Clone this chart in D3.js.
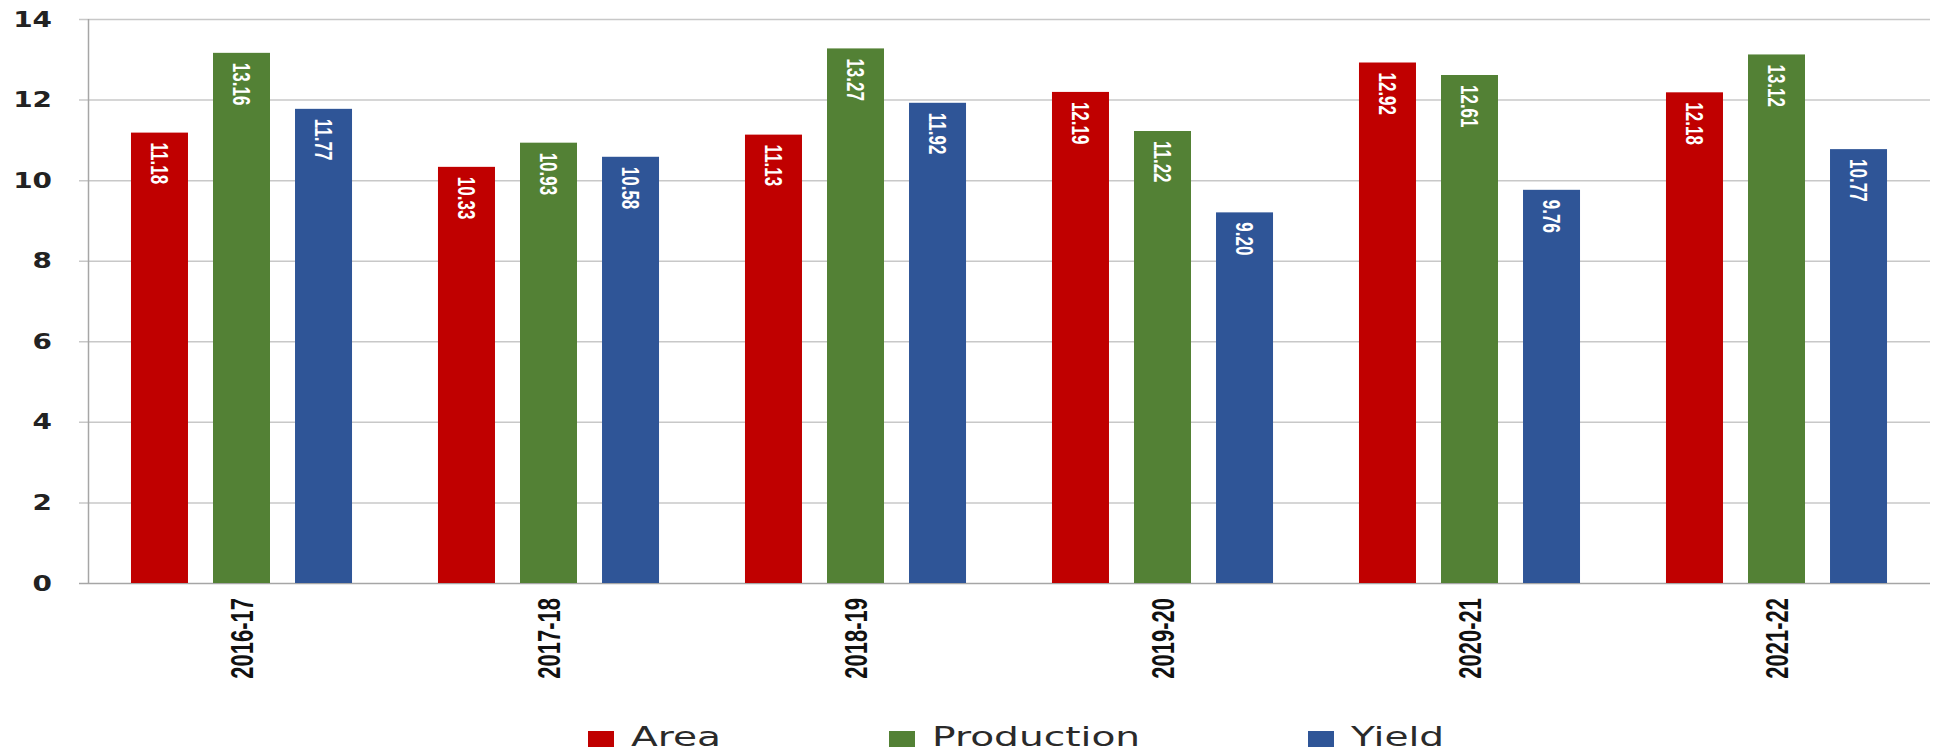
<!DOCTYPE html>
<html>
<head>
<meta charset="utf-8">
<script src="https://cdn.jsdelivr.net/npm/d3@7"></script>
<style>
  body { margin: 0; background: #fff; }
  svg { display: block; }
</style>
</head>
<body>
<svg></svg>
<script>
var width = 1944
var height = 753
var years = ["2016-17","2017-18","2018-19","2019-20","2020-21","2021-22"]
var series = ["Area","Production","Yield"]
var colors = ["#c00000","#538135","#2f5597"]
var area = [11.18, 10.33, 11.13, 12.19, 12.92, 12.18]
var production = [13.16, 10.93, 13.27, 11.22, 12.61, 13.12]
var yield_ = [11.77, 10.58, 11.92, 9.20, 9.76, 10.77]
var yTicks = [0, 2, 4, 6, 8, 10, 12, 14]

var values = [area, production, yield_]
var rows = years.map((y, i) => ({year: y, vals: series.map((s, j) => ({key: s, idx: j, v: values[j][i]}))}))

var margin = {top: 19, right: 14, bottom: 170, left: 88}

const svg = d3.select("svg")
	.attr("width", width)
	.attr("height", height)

const x0 = d3.scaleBand()
	.domain(years)
	.range([margin.left, width - margin.right])
	.paddingInner(0.28)
	.paddingOuter(0.14)

const x1 = d3.scaleBand()
	.domain(series)
	.range([0, x0.bandwidth()])
	.paddingInner(0.305)

const y = d3.scaleLinear()
	.domain([0, 14])
	.range([height - margin.bottom, margin.top])

// gridlines
svg.append("g")
	.selectAll("line")
	.data(yTicks)
	.join("line")
	.attr("x1", margin.left - 9)
	.attr("x2", width - margin.right)
	.attr("y1", d => y(d) + 0.5)
	.attr("y2", d => y(d) + 0.5)
	.attr("stroke", d => d == 0 ? "#a6a6a6" : "#c8c8c8")
	.attr("stroke-width", 1.5)

// y axis line
svg.append("line")
	.attr("x1", margin.left + 0.5)
	.attr("x2", margin.left + 0.5)
	.attr("y1", y(14))
	.attr("y2", y(0))
	.attr("stroke", "#a6a6a6")
	.attr("stroke-width", 1.5)

svg.append("g")
	.selectAll("text")
	.data(yTicks)
	.join("text")
	.attr("transform", d => `translate(52,${y(d)}) scale(1.33,1)`)
	.attr("dy", "0.36em")
	.attr("text-anchor", "end")
	.style("font", "bold 21px 'DejaVu Sans'")
	.style("fill", "#222")
	.text(d => d)

const group = svg.append("g")
	.selectAll("g")
	.data(rows)
	.join("g")
	.attr("transform", d => `translate(${x0(d.year)},0)`)

group.selectAll("rect")
	.data(d => d.vals)
	.join("rect")
	.attr("x", d => x1(d.key))
	.attr("width", x1.bandwidth())
	.attr("y", d => y(d.v))
	.attr("height", d => y(0) - y(d.v))
	.attr("fill", d => colors[d.idx])

group.selectAll("text.val")
	.data(d => d.vals)
	.join("text")
	.attr("class", "val")
	.attr("transform", d => `translate(${x1(d.key) + x1.bandwidth() / 2},${y(d.v) + 10}) rotate(90) scale(1,1.45)`)
	.attr("dominant-baseline", "central")
	.style("font", "bold 17px 'Liberation Sans'")
	.style("fill", "#fff")
	.text(d => d.v.toFixed(2))

// category labels
svg.append("g")
	.selectAll("text")
	.data(years)
	.join("text")
	.attr("transform", d => `translate(${x0(d) + x0.bandwidth() / 2},598) rotate(-90) scale(1,1.45)`)
	.attr("text-anchor", "end")
	.attr("dominant-baseline", "central")
	.style("font", "bold 22px 'Liberation Sans'")
	.style("fill", "#111")
	.text(d => d)

// legend
var legendX = [588, 889, 1308]
const legend = svg.append("g")
	.selectAll("g")
	.data(series)
	.join("g")
	.attr("transform", (d, i) => `translate(${legendX[i]},731)`)

legend.append("rect")
	.attr("width", 26)
	.attr("height", 16)
	.attr("fill", (d, i) => colors[i])

legend.append("text")
	.attr("transform", "translate(43,15) scale(1.45,1)")
	.style("font", "27px 'DejaVu Sans'")
	.style("fill", "#2a2a2a")
	.text(d => d)
</script>
</body>
</html>
